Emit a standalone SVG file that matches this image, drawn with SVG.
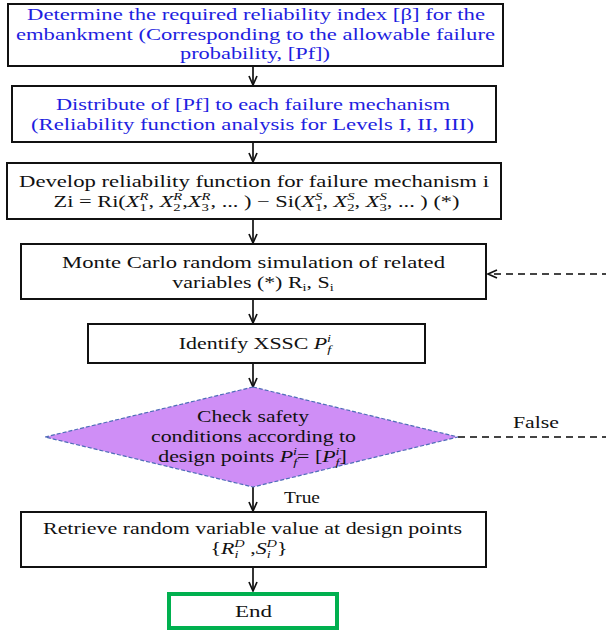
<svg xmlns="http://www.w3.org/2000/svg" width="606" height="631" viewBox="0 0 606 631">
  <defs>
    <style>
      .box { fill: #ffffff; stroke: #111111; stroke-width: 2; }
      .end { fill: #ffffff; stroke: #00b04f; stroke-width: 4; }
      .decision { fill: #cf8ef6; stroke: #4f6db8; stroke-width: 1.2; stroke-dasharray: 4 2; }
      .t { font-family: "Liberation Serif", "Times New Roman", serif; font-size: 16px; fill: #111111; }
      .blue { fill: #1e1ee0; }
      .it { font-style: italic; }
      .sm { font-size: 10.5px; }
      .conn { fill: none; stroke: #111111; stroke-width: 1.7; marker-end: url(#arrow); }
      .loop { fill: none; stroke: #444444; stroke-width: 1.8; stroke-dasharray: 7 5; marker-end: url(#arrow); }
      .head { fill: none; stroke: #111111; stroke-width: 1.7; stroke-linejoin: miter; }
    </style>
    <marker id="arrow" viewBox="-11 -6 12 12" refX="0" refY="0" markerWidth="12" markerHeight="12" markerUnits="userSpaceOnUse" orient="auto" overflow="visible">
      <path class="head" d="M-9,-4 L0,0 L-9,4"/>
    </marker>
  </defs>

  <!-- connectors -->
  <g id="connectors">
    <line class="conn" x1="253" y1="66" x2="253" y2="85"/>
    <line class="conn" x1="253" y1="142" x2="253" y2="162"/>
    <line class="conn" x1="253" y1="219" x2="253" y2="243"/>
    <line class="conn" x1="253" y1="299" x2="253" y2="323"/>
    <line class="conn" x1="253" y1="363" x2="253" y2="387"/>
    <line class="conn" x1="253" y1="487" x2="253" y2="511"/>
    <line class="conn" x1="253" y1="567" x2="253" y2="591"/>
    <!-- False branch loops back to the simulation step -->
    <path class="loop" d="M458,437 H614 V274 H488"/>
    <text class="t" x="536" y="428" text-anchor="middle" textLength="46" lengthAdjust="spacingAndGlyphs">False</text>
    <text class="t" x="302" y="503" text-anchor="middle" textLength="36" lengthAdjust="spacingAndGlyphs">True</text>
  </g>

  <!-- step 1 -->
  <g id="required-index">
    <rect class="box" x="8" y="4" width="495" height="62"/>
    <text class="t blue" x="256" y="20" text-anchor="middle" textLength="458" lengthAdjust="spacingAndGlyphs">Determine the required reliability index [β] for the</text>
    <text class="t blue" x="255.5" y="39.5" text-anchor="middle" textLength="479" lengthAdjust="spacingAndGlyphs">embankment (Corresponding to the allowable failure</text>
    <text class="t blue" x="255" y="59" text-anchor="middle" textLength="150" lengthAdjust="spacingAndGlyphs">probability, [Pf])</text>
  </g>

  <!-- step 2 -->
  <g id="distribute-pf">
    <rect class="box" x="12" y="86" width="484" height="56"/>
    <text class="t blue" x="253" y="110" text-anchor="middle" textLength="394" lengthAdjust="spacingAndGlyphs">Distribute of [Pf] to each failure mechanism</text>
    <text class="t blue" x="252.5" y="130" text-anchor="middle" textLength="443" lengthAdjust="spacingAndGlyphs">(Reliability function analysis for Levels I, II, III)</text>
  </g>

  <!-- step 3 -->
  <g id="reliability-function">
    <rect class="box" x="7" y="163" width="494" height="56"/>
    <text class="t" x="254" y="187" text-anchor="middle" textLength="470" lengthAdjust="spacingAndGlyphs">Develop reliability function for failure mechanism i</text>
    <text class="t" transform="translate(256.5,207) scale(1.4,1)" text-anchor="middle">Zi = Ri(<tspan class="it">X</tspan><tspan class="sm" baseline-shift="-4">1</tspan><tspan class="sm it" dx="-5.3" baseline-shift="7">R</tspan>, <tspan class="it">X</tspan><tspan class="sm" baseline-shift="-4">2</tspan><tspan class="sm it" dx="-5.3" baseline-shift="7">R</tspan>,<tspan class="it">X</tspan><tspan class="sm" baseline-shift="-4">3</tspan><tspan class="sm it" dx="-5.3" baseline-shift="7">R</tspan>, ... )  − Si(<tspan class="it">X</tspan><tspan class="sm" baseline-shift="-4">1</tspan><tspan class="sm it" dx="-5.3" baseline-shift="7">S</tspan>, <tspan class="it">X</tspan><tspan class="sm" baseline-shift="-4">2</tspan><tspan class="sm it" dx="-5.3" baseline-shift="7">S</tspan>, <tspan class="it">X</tspan><tspan class="sm" baseline-shift="-4">3</tspan><tspan class="sm it" dx="-5.3" baseline-shift="7">S</tspan>, ... ) (*)</text>
  </g>

  <!-- step 4 -->
  <g id="monte-carlo">
    <rect class="box" x="21" y="244" width="465" height="55"/>
    <text class="t" x="253.5" y="268" text-anchor="middle" textLength="383" lengthAdjust="spacingAndGlyphs">Monte Carlo random simulation of related</text>
    <text class="t" transform="translate(253,288) scale(1.37,1)" text-anchor="middle">variables (*) R<tspan class="sm" baseline-shift="-3">i</tspan>, S<tspan class="sm" baseline-shift="-3">i</tspan></text>
  </g>

  <!-- step 5 -->
  <g id="identify-pf">
    <rect class="box" x="88" y="324" width="337" height="39"/>
    <text class="t" transform="translate(255,349) scale(1.37,1)" text-anchor="middle">Identify XSSC <tspan class="it">P</tspan><tspan class="sm it" baseline-shift="-4">f</tspan><tspan class="sm it" dx="-3" baseline-shift="7">i</tspan></text>
  </g>

  <!-- decision -->
  <g id="safety-check">
    <polygon class="decision" points="253,387 458,437 253,487 45,437"/>
    <text class="t" x="253" y="422" text-anchor="middle" textLength="112" lengthAdjust="spacingAndGlyphs">Check safety</text>
    <text class="t" x="253.5" y="442" text-anchor="middle" textLength="205" lengthAdjust="spacingAndGlyphs">conditions according to</text>
    <text class="t" transform="translate(252.5,462) scale(1.37,1)" text-anchor="middle">design points <tspan class="it">P</tspan><tspan class="sm it" baseline-shift="-4">f</tspan><tspan class="sm it" dx="-3" baseline-shift="7">i</tspan>= [<tspan class="it">P</tspan><tspan class="sm it" baseline-shift="-4">f</tspan><tspan class="sm it" dx="-3" baseline-shift="7">i</tspan>]</text>
  </g>

  <!-- step 6 -->
  <g id="design-points">
    <rect class="box" x="21" y="512" width="465" height="55"/>
    <text class="t" x="252.5" y="534" text-anchor="middle" textLength="419" lengthAdjust="spacingAndGlyphs">Retrieve random variable value at design points</text>
    <text class="t" transform="translate(249,554) scale(1.37,1)" text-anchor="middle">{<tspan class="it">R</tspan><tspan class="sm it" baseline-shift="-4">i</tspan><tspan class="sm it" dx="-3" baseline-shift="7">D</tspan> ,<tspan class="it">S</tspan><tspan class="sm it" baseline-shift="-4">i</tspan><tspan class="sm it" dx="-3" baseline-shift="7">D</tspan>}</text>
  </g>

  <!-- end -->
  <g id="end">
    <rect class="end" x="169" y="594" width="168" height="34"/>
    <text class="t" x="253.5" y="617" text-anchor="middle" textLength="37" lengthAdjust="spacingAndGlyphs">End</text>
  </g>
</svg>
